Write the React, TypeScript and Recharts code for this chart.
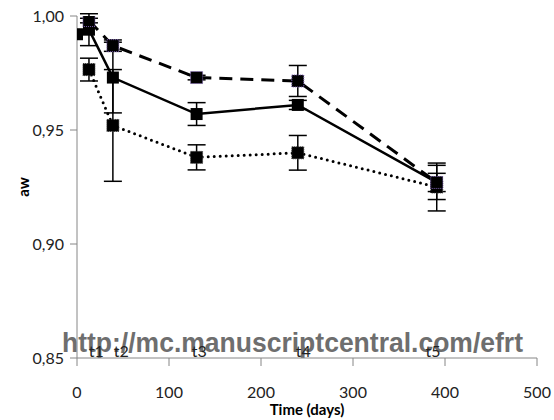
import React from 'react';
import { ComposedChart, Line, XAxis, YAxis, ErrorBar, ReferenceDot } from 'recharts';

const solidDays = [0, 13, 39, 130, 240, 391];
const solidValues = [0.992, 0.994, 0.973, 0.957, 0.961, 0.927];
const solidErrors = [0, 0.007, 0.0155, 0.005, 0.002, 0.004];

const dashedDays = [13, 39, 130, 240, 391];
const dashedValues = [0.998, 0.987, 0.973, 0.9715, 0.927];
const dashedErrors = [0.001, 0.0025, 0.001, 0.0068, 0.0075];

const dottedDays = [13, 39, 130, 240, 391];
const dottedValues = [0.9765, 0.952, 0.938, 0.94, 0.925];
const dottedErrors = [0.005, 0.0245, 0.0055, 0.0076, 0.0105];

const timeLabels = ['t1', 't2', 't3', 't4', 't5'];
const timeLabelDays = [21, 48, 133, 246, 387];

const xTicks = [0, 100, 200, 300, 400, 500];
const yTicks = [0.85, 0.9, 0.95, 1.0];

const build = (days: number[], vals: number[], errs: number[]) =>
  days.map((d, i) => ({ x: d, y: vals[i], err: errs[i] }));

const solidData = build(solidDays, solidValues, solidErrors);
const dashedData = build(dashedDays, dashedValues, dashedErrors);
const dottedData = build(dottedDays, dottedValues, dottedErrors);

const FONT = 'Lato, "Noto Sans", sans-serif';
const AXIS = '#868686';

const square = (border: string | null) => (props: any) => {
  const { cx, cy, index } = props;
  if (cx == null || cy == null) return <g key={`n${index}`} />;
  return (
    <rect
      key={`s${index}`}
      x={cx - 6}
      y={cy - 6}
      width={12}
      height={12}
      fill="#000"
      stroke={border || '#000'}
      strokeWidth={border ? 1 : 0}
      strokeDasharray={border ? '1 1' : undefined}
    />
  );
};

export default function App() {
  return (
    <div style={{ position: 'absolute', left: 0, top: 0, width: 554, height: 420, background: '#fff' }}>
      <svg width={554} height={420} style={{ position: 'absolute', left: 0, top: 0 }}>
        <text
          x={62}
          y={352}
          textLength={461}
          lengthAdjust="spacingAndGlyphs"
          fontFamily='"Liberation Sans", Arial, sans-serif'
          fontWeight="bold"
          fontSize={27}
          fill="#6e6e6e"
        >
          http://mc.manuscriptcentral.com/efrt
        </text>
      </svg>
      <div style={{ position: 'absolute', left: 0, top: 0 }}>
        <ComposedChart width={554} height={420} margin={{ top: 16, right: 17, bottom: 0, left: 0 }}>
          <XAxis
            type="number"
            dataKey="x"
            domain={[0, 500]}
            ticks={xTicks}
            allowDataOverflow
            height={62}
            stroke={AXIS}
            tickSize={8}
            tickMargin={21}
            tick={{ fontFamily: FONT, fontSize: 16, fill: '#222' }}
            tickLine={{ stroke: AXIS }}
            label={(props: any) => {
              const vb = props.viewBox;
              return (
                <text
                  x={vb.x + vb.width / 2}
                  y={vb.y + vb.height - 5}
                  textAnchor="middle"
                  fontFamily={FONT}
                  fontWeight="bold"
                  fontSize={15}
                  fill="#000"
                >
                  Time (days)
                </text>
              );
            }}
          />
          <YAxis
            type="number"
            dataKey="y"
            domain={[0.85, 1.0]}
            ticks={yTicks}
            allowDataOverflow
            width={77}
            stroke={AXIS}
            tickSize={7}
            tickMargin={6}
            tickFormatter={(v: number) => v.toFixed(2).replace('.', ',')}
            tick={{ fontFamily: FONT, fontSize: 16, fill: '#222' }}
            tickLine={{ stroke: AXIS }}
            label={(props: any) => {
              const vb = props.viewBox;
              const cx = vb.x + 23;
              const cy = vb.y + vb.height / 2;
              return (
                <text
                  x={cx}
                  y={cy}
                  transform={`rotate(-90, ${cx}, ${cy})`}
                  textAnchor="middle"
                  dominantBaseline="central"
                  fontFamily={FONT}
                  fontWeight="bold"
                  fontSize={15}
                  fill="#000"
                >
                  aw
                </text>
              );
            }}
          />
          <Line
            data={dottedData}
            dataKey="y"
            stroke="#000"
            strokeWidth={3}
            strokeDasharray="0 6"
            strokeLinecap="round"
            dot={square('#333')}
            activeDot={false}
            isAnimationActive={false}
          >
            <ErrorBar dataKey="err" direction="y" width={9} stroke="#000" strokeWidth={1.5} />
          </Line>
          <Line
            data={solidData}
            dataKey="y"
            stroke="#000"
            strokeWidth={2.5}
            dot={square(null)}
            activeDot={false}
            isAnimationActive={false}
          >
            <ErrorBar dataKey="err" direction="y" width={9} stroke="#000" strokeWidth={1.5} />
          </Line>
          <Line
            data={dashedData}
            dataKey="y"
            stroke="#000"
            strokeWidth={3}
            strokeDasharray="13 8"
            dot={square('#7a5fb0')}
            activeDot={false}
            isAnimationActive={false}
          >
            <ErrorBar dataKey="err" direction="y" width={9} stroke="#000" strokeWidth={1.5} />
          </Line>
          {timeLabels.map((t, i) => (
            <ReferenceDot
              key={t}
              x={timeLabelDays[i]}
              y={0.85}
              ifOverflow="visible"
              shape={(p: any) => (
                <text
                  x={p.cx}
                  y={p.cy - 1}
                  textAnchor="middle"
                  fontFamily={FONT}
                  fontSize={16}
                  fill="#222"
                >
                  {t}
                </text>
              )}
            />
          ))}
        </ComposedChart>
      </div>
    </div>
  );
}
